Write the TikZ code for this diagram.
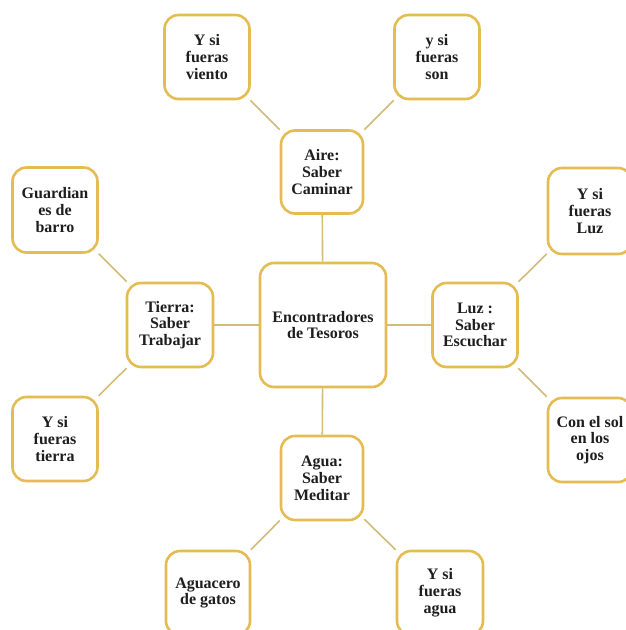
\documentclass[tikz,border=0pt]{standalone}
\usepackage{fontspec}
\setmainfont{Liberation Serif}
\definecolor{boxgold}{HTML}{E4BC52}
\definecolor{linegold}{HTML}{D2BC76}
\definecolor{txt}{HTML}{1E1E1E}
\begin{document}
\begin{tikzpicture}[x=1pt,y=-1pt,
  tbox/.style={draw=boxgold, line width=2.6pt, fill=white, rounded corners=14pt,
    align=center, inner sep=0pt, text=txt,
    font=\fontsize{16}{16.8}\selectfont\bfseries},
  conn/.style={draw=linegold, line width=1.6pt}]
\useasboundingbox (0,0) rectangle (626,630);
\clip (0,0) rectangle (626,630);
\fill[white] (0,0) rectangle (626,630);
% nodes
\node[tbox, minimum width=126pt, minimum height=124pt] (c) at (323,325) {Encontradores\\de Tesoros};
\node[tbox, minimum width=82pt, minimum height=83pt] (aire) at (322,172) {Aire:\\Saber\\Caminar};
\node[tbox, minimum width=85pt, minimum height=84pt] (viento) at (207,57) {Y si\\fueras\\viento};
\node[tbox, minimum width=85pt, minimum height=84pt] (son) at (437,57) {y si\\fueras\\son};
\node[tbox, minimum width=86pt, minimum height=84pt] (tierra) at (170,325) {Tierra:\\Saber\\Trabajar};
\node[tbox, minimum width=85pt, minimum height=85pt] (guard) at (55,210) {Guardian\\es de\\barro};
\node[tbox, minimum width=85pt, minimum height=84pt] (ytierra) at (55,439) {Y si\\fueras\\tierra};
\node[tbox, minimum width=85pt, minimum height=84pt] (luz) at (475,325) {Luz :\\Saber\\Escuchar};
\node[tbox, minimum width=84pt, minimum height=86pt] (yluz) at (590,211) {Y si\\fueras\\Luz};
\node[tbox, minimum width=84pt, minimum height=84pt] (consol) at (590,440) {Con el sol\\en los\\ojos};
\node[tbox, minimum width=82pt, minimum height=84pt] (agua) at (322,478) {Agua:\\Saber\\Meditar};
\node[tbox, minimum width=84pt, minimum height=84pt] (aguacero) at (208,593) {Aguacero\\de gatos};
\node[tbox, minimum width=86pt, minimum height=84pt] (yagua) at (440,593) {Y si\\fueras\\agua};
% connectors
\draw[conn] (aire) -- (c);
\draw[conn] (c) -- (agua);
\draw[conn] (tierra) -- (c);
\draw[conn] (c) -- (luz);
\draw[conn] (viento) -- (aire);
\draw[conn] (son) -- (aire);
\draw[conn] (guard) -- (tierra);
\draw[conn] (ytierra) -- (tierra);
\draw[conn] (yluz) -- (luz);
\draw[conn] (consol) -- (luz);
\draw[conn] (aguacero) -- (agua);
\draw[conn] (yagua) -- (agua);
\end{tikzpicture}
\end{document}
